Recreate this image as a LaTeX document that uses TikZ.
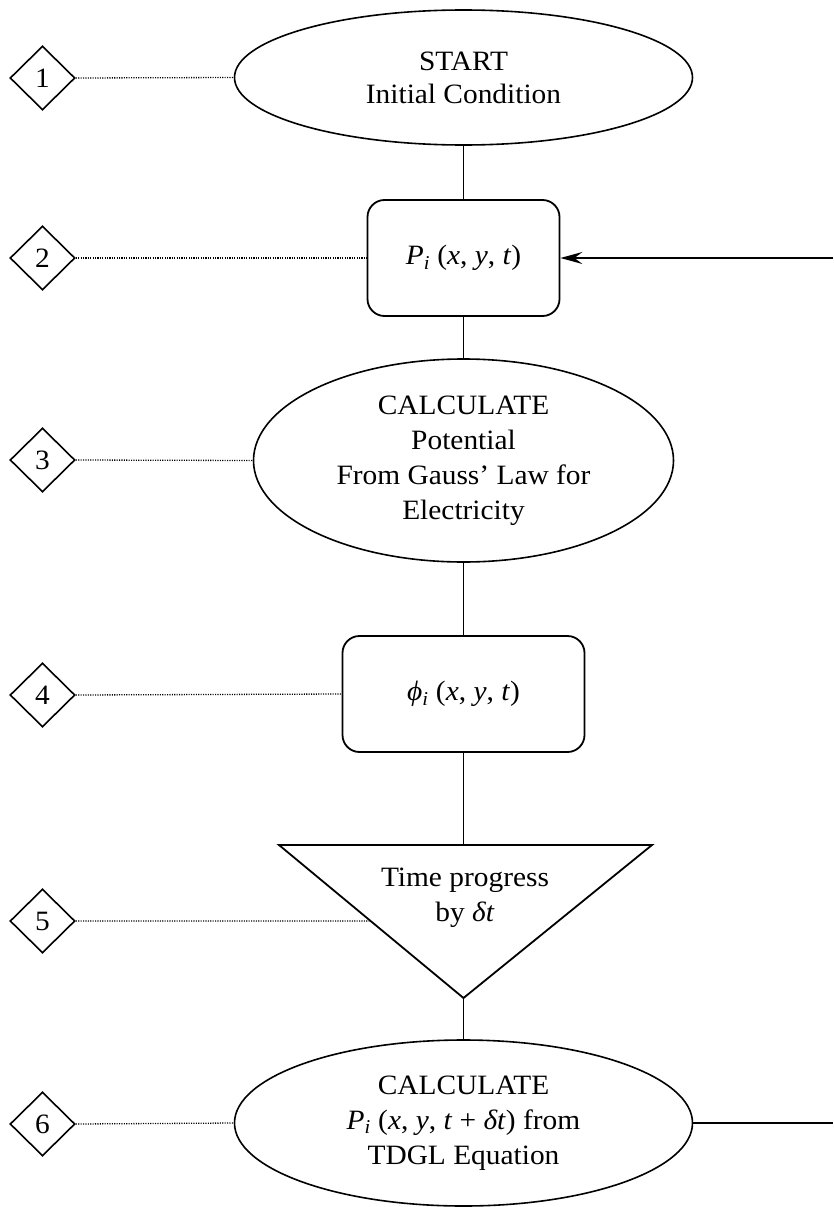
\documentclass[tikz,border=0pt]{standalone}
\usepackage{fontspec}
\setmainfont{Liberation Serif}[FakeStretch=1.05]
\usetikzlibrary{shapes.geometric,arrows.meta,calc}
\begin{document}
\begin{tikzpicture}[x=1pt,y=-1pt,
  every node/.style={font=\fontsize{28}{35}\selectfont, align=center, inner sep=0pt},
  flowline/.style={line width=1.8pt},
  dotline/.style={line width=1.3pt, dash pattern=on 1.1pt off 1.3pt},
  numdiamond/.style={draw, diamond, line width=1.6pt, minimum width=65pt, minimum height=64pt},
  oval/.style={draw, ellipse, line width=1.6pt},
  roundbox/.style={draw, rounded corners=17pt, line width=1.8pt}]
\useasboundingbox (0,0) rectangle (833,1207);

% main flow
\node[oval, minimum width=458pt, minimum height=135pt, font=\fontsize{28}{33}\selectfont] (e1) at (463.5,77.5) {START\\Initial Condition};
\node[roundbox, minimum width=192pt, minimum height=116pt] (b2) at (463.5,258) {\textit{P}\textsubscript{\textit{i}} (\textit{x}, \textit{y}, \textit{t})};
\node[oval, minimum width=420pt, minimum height=203pt] (e3) at (463.5,460.5) {CALCULATE\\Potential\\From Gauss’ Law for\\Electricity};
\node[roundbox, minimum width=242pt, minimum height=116pt] (b4) at (463.5,694) {\textit{ϕ}\textsubscript{\textit{i}} (\textit{x}, \textit{y}, \textit{t})};
\coordinate (tl) at (279,845);
\coordinate (tr) at (652,845);
\coordinate (ap) at (463.5,998);
\coordinate (tm) at (463.5,845);
\draw[flowline, line join=miter] (tl) -- (tr) -- (ap) -- cycle;
\node (t5) at (465,898) {Time progress\\by \textit{δt}};
\node[oval, minimum width=458pt, minimum height=166pt] (e6) at (463.5,1123) {CALCULATE\\\textit{P}\textsubscript{\textit{i}} (\textit{x}, \textit{y}, \textit{t} + \textit{δt}) from\\TDGL Equation};

\draw[flowline] (e1.south) -- (b2.north);
\draw[flowline] (b2.south) -- (e3.north);
\draw[flowline] (e3.south) -- (b4.north);
\draw[flowline] (b4.south) -- (tm);
\draw[flowline] (ap) -- (e6.north);

% feedback line (runs off the right edge)
\coordinate (r2) at (833,258);
\coordinate (r6) at (833,1123);
\draw[flowline] (e6.east) -- (r6);
\draw[flowline, -{Stealth[length=22pt, width=12pt, inset=8pt]}] (r2) -- (b2.east);

% numbered diamonds
\node[numdiamond] (d1) at (42.5,78) {1};
\node[numdiamond] (d2) at (42.5,258) {2};
\node[numdiamond] (d3) at (42.5,460) {3};
\node[numdiamond] (d4) at (42.5,695) {4};
\node[numdiamond] (d5) at (42.5,921) {5};
\node[numdiamond] (d6) at (42.5,1124) {6};
\coordinate (c5) at ($(tl)!0.497!(ap)$);

\draw[dotline] (d1.east) -- (e1.west);
\draw[dotline] (d2.east) -- (b2.west);
\draw[dotline] (d3.east) -- (e3.west);
\draw[dotline] (d4.east) -- (b4.west);
\draw[dotline] (d5.east) -- (c5);
\draw[dotline] (d6.east) -- (e6.west);
\end{tikzpicture}
\end{document}
